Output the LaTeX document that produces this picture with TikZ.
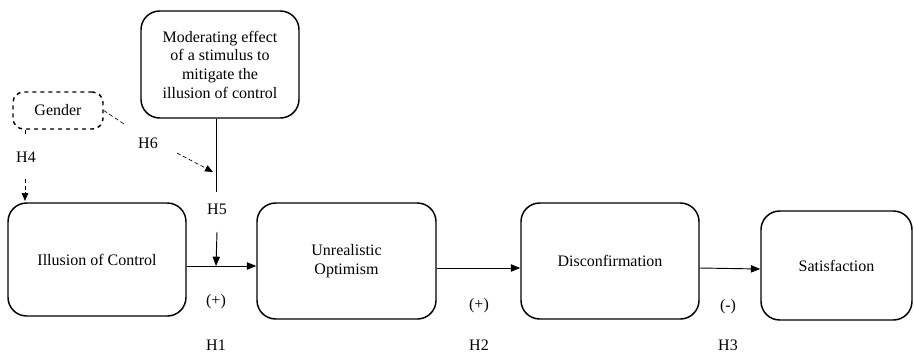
\documentclass[tikz,border=0pt]{standalone}
\usepackage{fontspec}
\setmainfont{Liberation Serif}
\usetikzlibrary{arrows.meta, positioning, calc}

\tikzset{
  stage/.style={draw=black, rounded corners=14pt, line width=1.1pt, align=center, font=\fontsize{12}{14}\selectfont},
  hyplabel/.style={inner sep=1pt, font=\fontsize{12}{14}\selectfont},
  link/.style={line width=0.7pt, -{Triangle[length=7pt, width=5.5pt]}},
  moderator/.style={line width=0.5pt, densely dashed},
}

\begin{document}
\begin{tikzpicture}[x=0.75pt, y=-0.75pt]
  \useasboundingbox (0,0) rectangle (914,354);

  % main chain
  \node[stage, minimum width=133.5pt, minimum height=84.75pt] (ioc) at (97,259.5) {Illusion of Control};
  \node[stage, minimum width=134.25pt, minimum height=87pt] (uo) at (346.5,261) {Unrealistic\\Optimism};
  \node[stage, minimum width=133.5pt, minimum height=87pt] (dis) at (610,261) {Disconfirmation};
  \node[stage, minimum width=113.25pt, minimum height=81.75pt] (sat) at (836.5,265.5) {Satisfaction};

  % moderators
  \node[stage, minimum width=118.5pt, minimum height=80.25pt] (mod) at (220,64.5)
    {Moderating effect\\of a stimulus to\\mitigate the\\illusion of control};
  \node[stage, dashed, rounded corners=8pt, minimum width=67.5pt, minimum height=27.75pt] (gen) at (58,110.5) {Gender};

  % hypothesis labels
  \node[hyplabel] (h5) at (217,209) {H5};
  \node[hyplabel] (h6) at (148,143) {H6};
  \node[hyplabel] (h4) at (26,157) {H4};
  \node[hyplabel] (s1) at (216,302) {(+)};
  \node[hyplabel] (h1) at (216,345) {H1};
  \node[hyplabel] (s2) at (479,306) {(+)};
  \node[hyplabel] (h2) at (479,345) {H2};
  \node[hyplabel] (s3) at (728,307) {(-)};
  \node[hyplabel] (h3) at (728,345) {H3};

  \coordinate (j1) at (216,266);
  \coordinate (j2) at (216,192);
  \coordinate (g1) at (124,124);
  \coordinate (g2) at (177,153);
  \coordinate (g3) at (213,172);
  \coordinate (g4) at (25,136);
  \coordinate (g5) at (25,179);
  \coordinate (g6) at (25,201);

  % connectors
  \draw[link] (ioc.east |- j1) -- (uo.west |- j1);
  \draw[link] (uo.east |- 0,268) -- (dis.west |- 0,268);
  \draw[link] (dis.east |- 0,268) -- (sat.west |- 0,269);
  \draw[line width=0.6pt] (mod.south -| j2) -- (j2);
  \draw[link] (h5.south |- 0,232) -- (j1);
  \draw[moderator] (gen.east) -- (g1);
  \draw[moderator, -{Triangle[length=6pt, width=5pt]}] (g2) -- (g3);
  \draw[moderator] (gen.south -| g4) -- (g4);
  \draw[moderator, -{Triangle[length=6pt, width=5pt]}] (g5) -- (g6);
\end{tikzpicture}
\end{document}
